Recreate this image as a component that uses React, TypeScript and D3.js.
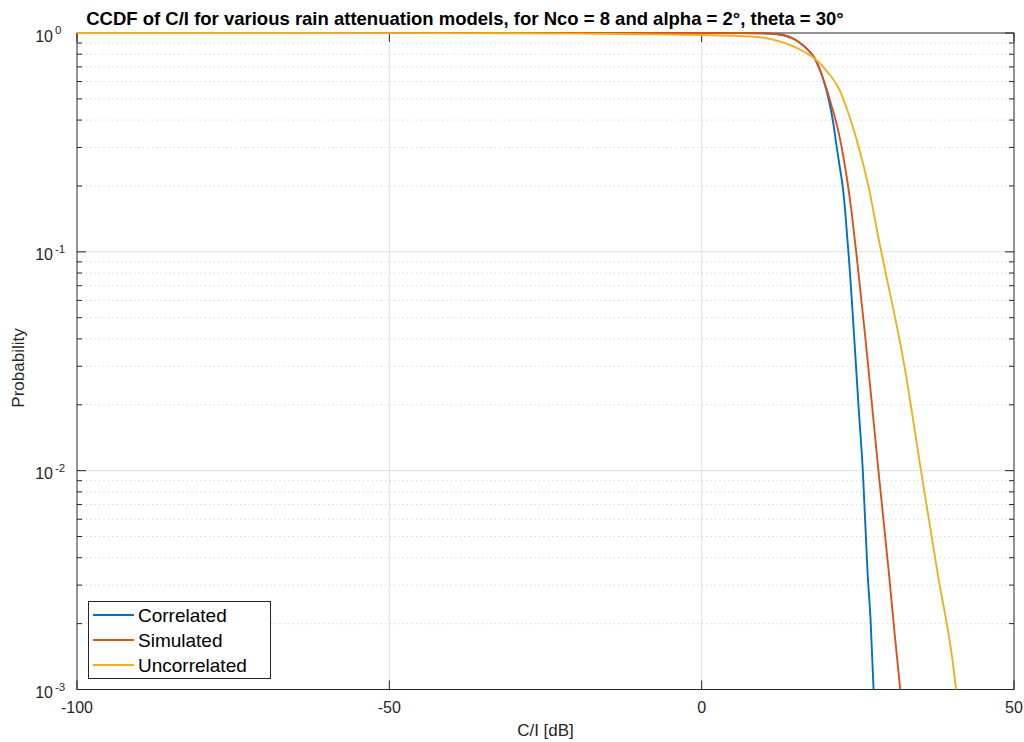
import React from "react";
import * as d3 from "d3";

// CCDF curves of C/I (dB) for three rain attenuation models
const correlatedX = [-100, -50, 0, 6.08, 9.28, 10.88, 12.48, 13.6, 14.61, 15.36, 16.16, 17.28, 18.08, 18.72, 19.36, 20.0, 20.56, 21.04, 21.52, 22.08, 22.61, 22.96, 23.31, 23.57, 24.16, 25.12, 25.81, 26.56, 27.04, 27.52];
const correlatedP = [1, 1, 1, 1, 0.9979, 0.9937, 0.9843, 0.9689, 0.9438, 0.9174, 0.8814, 0.823, 0.7664, 0.703, 0.6294, 0.5433, 0.4639, 0.3921, 0.3144, 0.2467, 0.1957, 0.1553, 0.1156, 0.0937, 0.0531, 0.01954, 0.00986, 0.00341, 0.002078, 0.001];

const simulatedX = [-100, -50, 0, 6.08, 9.28, 10.88, 12.48, 13.6, 14.61, 15.36, 16.16, 17.28, 18.08, 18.72, 19.36, 20.0, 20.8, 21.44, 22.08, 22.72, 23.41, 24.0, 24.48, 24.85, 26.24, 28.32, 29.97, 30.88, 31.79];
const simulatedP = [1, 1, 1, 1, 0.9979, 0.9937, 0.9843, 0.9689, 0.9438, 0.9174, 0.8814, 0.823, 0.7664, 0.6993, 0.6261, 0.5547, 0.4639, 0.4003, 0.3347, 0.2684, 0.202, 0.1521, 0.1156, 0.0937, 0.03955, 0.00986, 0.00341, 0.001812, 0.001];

const uncorrelatedX = [-100, -40, -30, -20, -10, 0, 6.08, 9.76, 12.48, 14.56, 16.48, 18.08, 20.16, 22.08, 23.2, 23.84, 24.96, 26.72, 28.37, 28.96, 32.48, 35.15, 37.76, 40.16, 40.75];
const uncorrelatedP = [1, 0.999, 0.997, 0.993, 0.987, 0.979, 0.969, 0.954, 0.916, 0.872, 0.819, 0.765, 0.663, 0.549, 0.454, 0.4, 0.314, 0.198, 0.1132, 0.0937, 0.0298, 0.00987, 0.00341, 0.00136, 0.001];

const seriesNames = ["Correlated", "Simulated", "Uncorrelated"];
const seriesColors = ["#0072BD", "#D95319", "#EDB120"];

const xTicks = [-100, -50, 0, 50];
const yDecades = [-3, -2, -1, 0];

const titleText = "CCDF of C/I for various rain attenuation models, for Nco = 8 and alpha = 2°, theta = 30°";
const xLabel = "C/I [dB]";
const yLabel = "Probability";

const W = 1024;
const H = 742;
const left = 77;
const right = 1014;
const top = 33;
const bottom = 689.5;

const FONT = "'Liberation Sans', Arial, Helvetica, sans-serif";
const AXIS = "#262626";

export default function App() {
  const x = d3.scaleLinear().domain([-100, 50]).range([left, right]);
  const y = d3.scaleLog().domain([1e-3, 1]).range([bottom, top]);

  const series = [
    correlatedX.map((v, i) => [v, correlatedP[i]] as [number, number]),
    simulatedX.map((v, i) => [v, simulatedP[i]] as [number, number]),
    uncorrelatedX.map((v, i) => [v, uncorrelatedP[i]] as [number, number]),
  ];

  const line = d3
    .line<[number, number]>()
    .x((d) => x(d[0]))
    .y((d) => y(d[1]))
    .curve(d3.curveMonotoneX);

  const minorTicks: number[] = [];
  for (let e = -3; e < 0; e++) {
    for (let m = 2; m <= 9; m++) minorTicks.push(m * Math.pow(10, e));
  }

  return (
    <svg
      width={W}
      height={H}
      style={{ position: "absolute", left: 0, top: 0, background: "#fff" }}
      fontFamily={FONT}
    >
      <defs>
        <clipPath id="plotClip">
          <rect x={left} y={top - 2} width={right - left + 1} height={bottom - top + 3} />
        </clipPath>
      </defs>
      <rect x={0} y={0} width={W} height={H} fill="#fff" />

      {/* minor grid (dotted) */}
      {minorTicks.map((t) => (
        <line
          key={"mg" + t}
          x1={left}
          x2={right}
          y1={y(t)}
          y2={y(t)}
          stroke="#d0d0d0"
          strokeWidth={1}
          strokeDasharray="1.2 3.2"
        />
      ))}
      {/* major grid */}
      {yDecades.slice(1, 3).map((e) => (
        <line key={"gy" + e} x1={left} x2={right} y1={y(Math.pow(10, e))} y2={y(Math.pow(10, e))} stroke="#dfdfdf" strokeWidth={1} />
      ))}
      {xTicks.slice(1, 3).map((t) => (
        <line key={"gx" + t} x1={x(t)} x2={x(t)} y1={top} y2={bottom} stroke="#dfdfdf" strokeWidth={1} />
      ))}

      {/* axes box */}
      <rect x={left} y={top} width={right - left} height={bottom - top} fill="none" stroke={AXIS} strokeWidth={1} />

      {/* y ticks, both sides */}
      {yDecades.map((e) => {
        const yy = y(Math.pow(10, e));
        return (
          <g key={"ty" + e}>
            <line x1={left} x2={left + 9} y1={yy} y2={yy} stroke={AXIS} />
            <line x1={right} x2={right - 9} y1={yy} y2={yy} stroke={AXIS} />
          </g>
        );
      })}
      {minorTicks.map((t) => (
        <g key={"tm" + t}>
          <line x1={left} x2={left + 5} y1={y(t)} y2={y(t)} stroke={AXIS} />
          <line x1={right} x2={right - 5} y1={y(t)} y2={y(t)} stroke={AXIS} />
        </g>
      ))}
      {/* x ticks, top and bottom */}
      {xTicks.map((t) => (
        <g key={"tx" + t}>
          <line x1={x(t)} x2={x(t)} y1={bottom} y2={bottom - 9} stroke={AXIS} />
          <line x1={x(t)} x2={x(t)} y1={top} y2={top + 9} stroke={AXIS} />
        </g>
      ))}

      {/* curves */}
      <g clipPath="url(#plotClip)">
        {series.map((s, i) => (
          <path key={seriesNames[i]} d={line(s) || ""} fill="none" stroke={seriesColors[i]} strokeWidth={1.9} strokeLinejoin="round" />
        ))}
      </g>

      {/* y tick labels */}
      {yDecades.map((e) => {
        const yy = y(Math.pow(10, e));
        return (
          <g key={"ly" + e} fill={AXIS}>
            <text x={53} y={yy + 8.5} fontSize={16} textAnchor="end">10</text>
            <text x={55} y={yy + 1} fontSize={11.5} textAnchor="start">{e === 0 ? "0" : "-" + Math.abs(e)}</text>
          </g>
        );
      })}
      {/* x tick labels */}
      {xTicks.map((t) => (
        <text key={"lx" + t} x={x(t)} y={713} fontSize={16} textAnchor="middle" fill={AXIS}>
          {t}
        </text>
      ))}

      {/* axis labels */}
      <text x={545.5} y={736} fontSize={17} textAnchor="middle" fill={AXIS}>{xLabel}</text>
      <text transform="translate(24,368) rotate(-90)" fontSize={17} textAnchor="middle" fill={AXIS}>{yLabel}</text>

      {/* title */}
      <text x={465} y={25} fontSize={18.5} fontWeight="bold" textAnchor="middle" fill="#000">{titleText}</text>

      {/* legend */}
      <g>
        <rect x={88.5} y={601.5} width={182} height={77} fill="#fff" stroke={AXIS} strokeWidth={1} />
        {seriesNames.map((n, i) => (
          <g key={"lg" + n}>
            <line x1={93} x2={134} y1={615 + i * 25} y2={615 + i * 25} stroke={seriesColors[i]} strokeWidth={1.9} />
            <text x={138} y={621.5 + i * 25} fontSize={19} fill="#000">{n}</text>
          </g>
        ))}
      </g>
    </svg>
  );
}
